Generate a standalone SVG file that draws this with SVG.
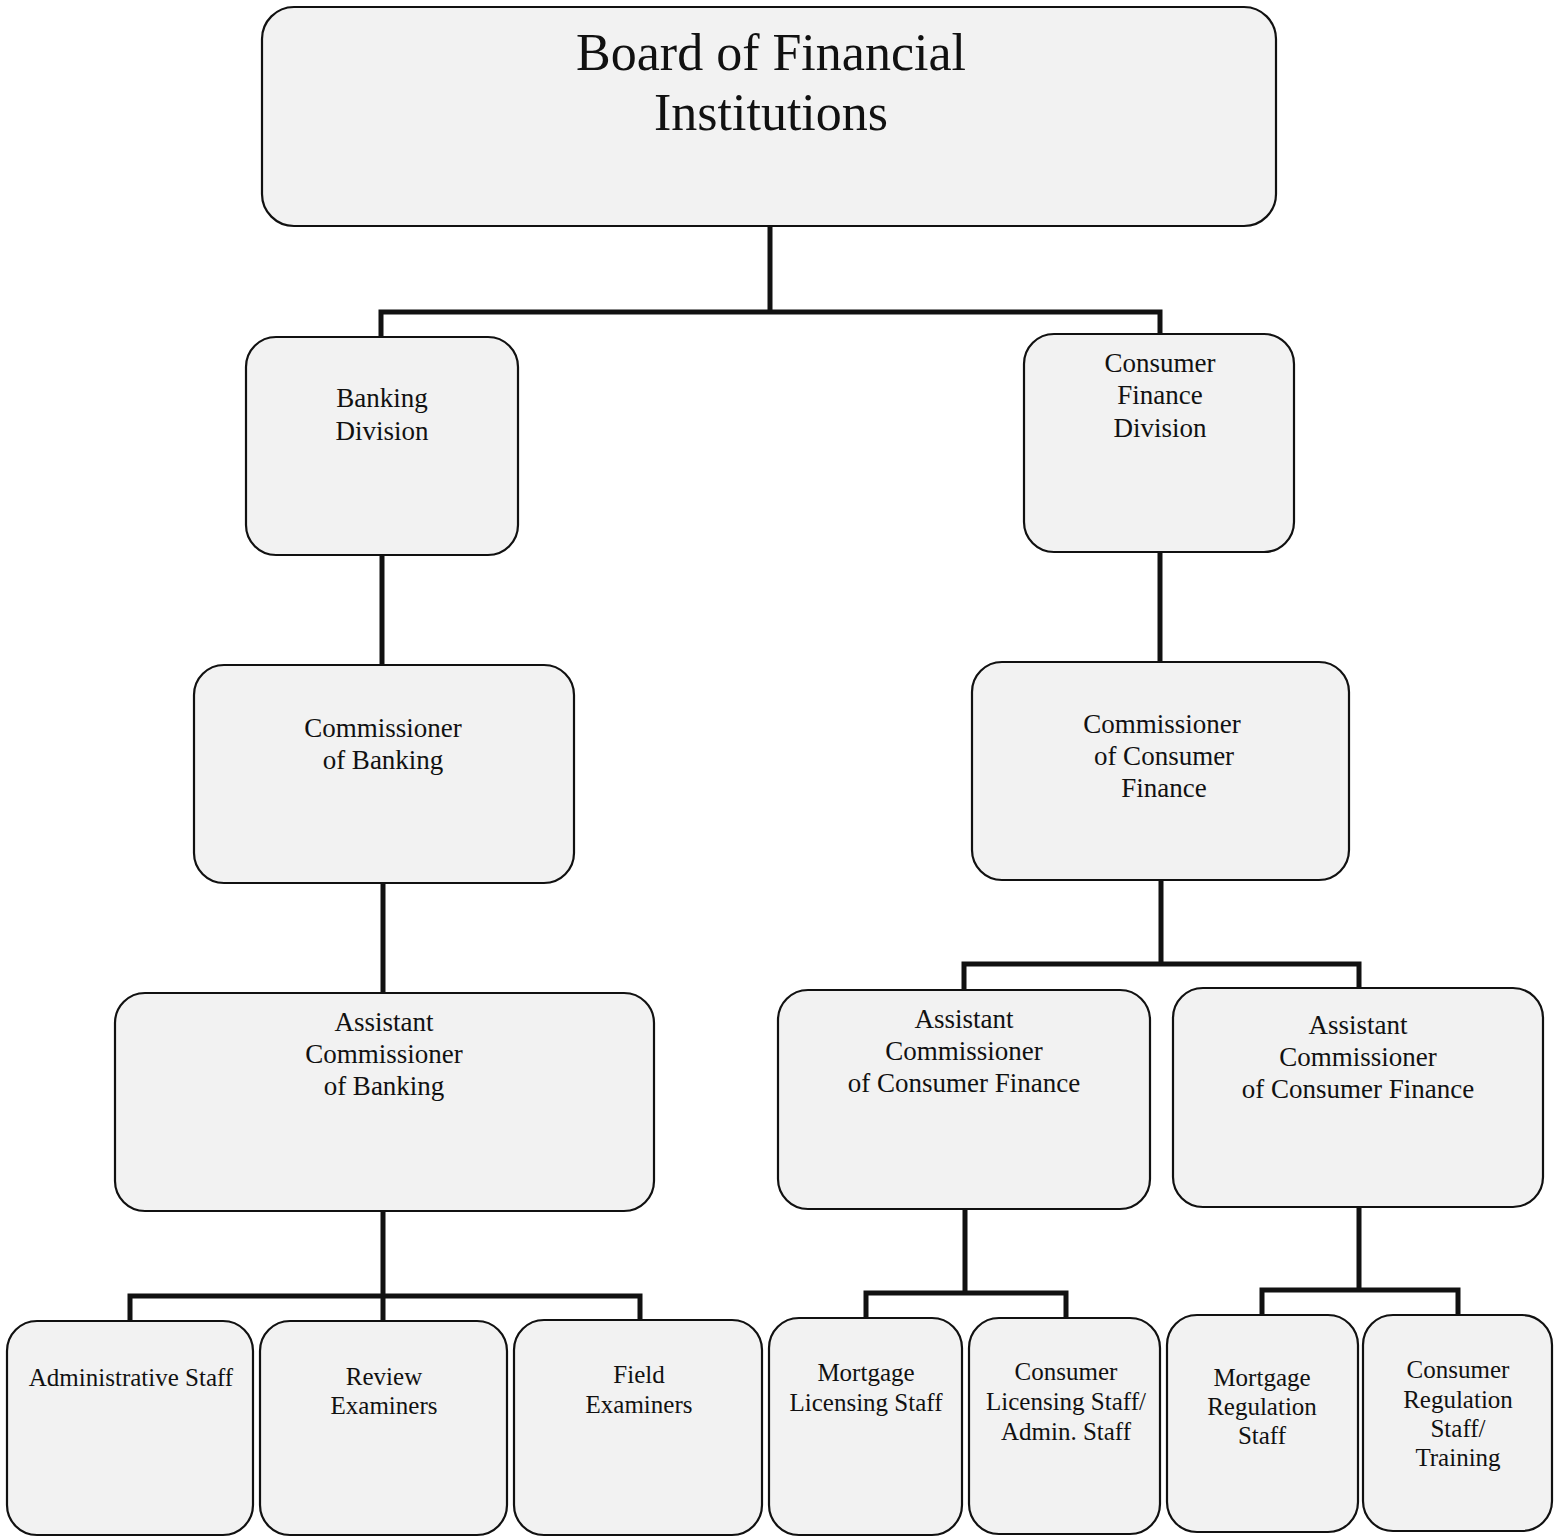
<svg xmlns="http://www.w3.org/2000/svg" width="1559" height="1537" viewBox="0 0 1559 1537">
<style>
.box{fill:#f2f2f2;stroke:#111;stroke-width:2.2}
.t{font-family:"Liberation Serif","Times New Roman",serif;fill:#111;text-anchor:middle}
.m{font-size:27px}
.s{font-size:25px}
.c{fill:none;stroke:#111;stroke-width:5;stroke-linejoin:miter}
</style>
<rect width="1559" height="1537" fill="#fff"/>
<g id="connectors">
<path class="c" d="M770,226 V312 M381,337 V312 H1160 V335"/>
<path class="c" d="M382,555 V665"/>
<path class="c" d="M383,883 V993"/>
<path class="c" d="M383,1211 V1296 M130,1321 V1296 H640 V1321 M383,1296 V1321"/>
<path class="c" d="M1160,552 V662"/>
<path class="c" d="M1161,880 V964 M964,990 V964 H1359 V988"/>
<path class="c" d="M965,1209 V1293 M866,1318 V1293 H1066 V1318"/>
<path class="c" d="M1359,1207 V1290 M1262,1315 V1290 H1458 V1315"/>
</g>
<g id="board">
<rect class="box" x="262" y="7" width="1014" height="219" rx="32"/>
<text class="t" x="771" y="70" font-size="52">Board of Financial</text>
<text class="t" x="771" y="130" font-size="52">Institutions</text>
</g>
<g id="banking-division">
<rect class="box" x="246" y="337" width="272" height="218" rx="30"/>
<text class="t m" x="382" y="407">Banking</text>
<text class="t m" x="382" y="440">Division</text>
</g>
<g id="consumer-finance-division">
<rect class="box" x="1024" y="334" width="270" height="218" rx="30"/>
<text class="t m" x="1160" y="372">Consumer</text>
<text class="t m" x="1160" y="404">Finance</text>
<text class="t m" x="1160" y="437">Division</text>
</g>
<g id="commissioner-banking">
<rect class="box" x="194" y="665" width="380" height="218" rx="30"/>
<text class="t m" x="383" y="737">Commissioner</text>
<text class="t m" x="383" y="769">of Banking</text>
</g>
<g id="commissioner-consumer-finance">
<rect class="box" x="972" y="662" width="377" height="218" rx="30"/>
<text class="t m" x="1162" y="733">Commissioner</text>
<text class="t m" x="1164" y="765">of Consumer</text>
<text class="t m" x="1164" y="797">Finance</text>
</g>
<g id="assistant-commissioner-banking">
<rect class="box" x="115" y="993" width="539" height="218" rx="30"/>
<text class="t m" x="384" y="1031">Assistant</text>
<text class="t m" x="384" y="1063">Commissioner</text>
<text class="t m" x="384" y="1095">of Banking</text>
</g>
<g id="assistant-commissioner-cf-1">
<rect class="box" x="778" y="990" width="372" height="219" rx="30"/>
<text class="t m" x="964" y="1028">Assistant</text>
<text class="t m" x="964" y="1060">Commissioner</text>
<text class="t m" x="964" y="1092">of Consumer Finance</text>
</g>
<g id="assistant-commissioner-cf-2">
<rect class="box" x="1173" y="988" width="370" height="219" rx="30"/>
<text class="t m" x="1358" y="1034">Assistant</text>
<text class="t m" x="1358" y="1066">Commissioner</text>
<text class="t m" x="1358" y="1098">of Consumer Finance</text>
</g>
<g id="administrative-staff">
<rect class="box" x="7" y="1321" width="246" height="214" rx="30"/>
<text class="t s" x="131" y="1386">Administrative Staff</text>
</g>
<g id="review-examiners">
<rect class="box" x="260" y="1321" width="247" height="214" rx="30"/>
<text class="t s" x="384" y="1385">Review</text>
<text class="t s" x="384" y="1414">Examiners</text>
</g>
<g id="field-examiners">
<rect class="box" x="514" y="1320" width="248" height="215" rx="30"/>
<text class="t s" x="639" y="1383">Field</text>
<text class="t s" x="639" y="1413">Examiners</text>
</g>
<g id="mortgage-licensing-staff">
<rect class="box" x="769" y="1318" width="193" height="217" rx="30"/>
<text class="t s" x="866" y="1381">Mortgage</text>
<text class="t s" x="866" y="1411">Licensing Staff</text>
</g>
<g id="consumer-licensing-staff">
<rect class="box" x="969" y="1318" width="191" height="216" rx="30"/>
<text class="t s" x="1066" y="1380">Consumer</text>
<text class="t s" x="1066" y="1410">Licensing Staff/</text>
<text class="t s" x="1066" y="1440">Admin. Staff</text>
</g>
<g id="mortgage-regulation-staff">
<rect class="box" x="1167" y="1315" width="191" height="217" rx="30"/>
<text class="t s" x="1262" y="1386">Mortgage</text>
<text class="t s" x="1262" y="1415">Regulation</text>
<text class="t s" x="1262" y="1444">Staff</text>
</g>
<g id="consumer-regulation-staff">
<rect class="box" x="1363" y="1315" width="189" height="216" rx="30"/>
<text class="t s" x="1458" y="1378">Consumer</text>
<text class="t s" x="1458" y="1408">Regulation</text>
<text class="t s" x="1458" y="1437">Staff/</text>
<text class="t s" x="1458" y="1466">Training</text>
</g>
</svg>
